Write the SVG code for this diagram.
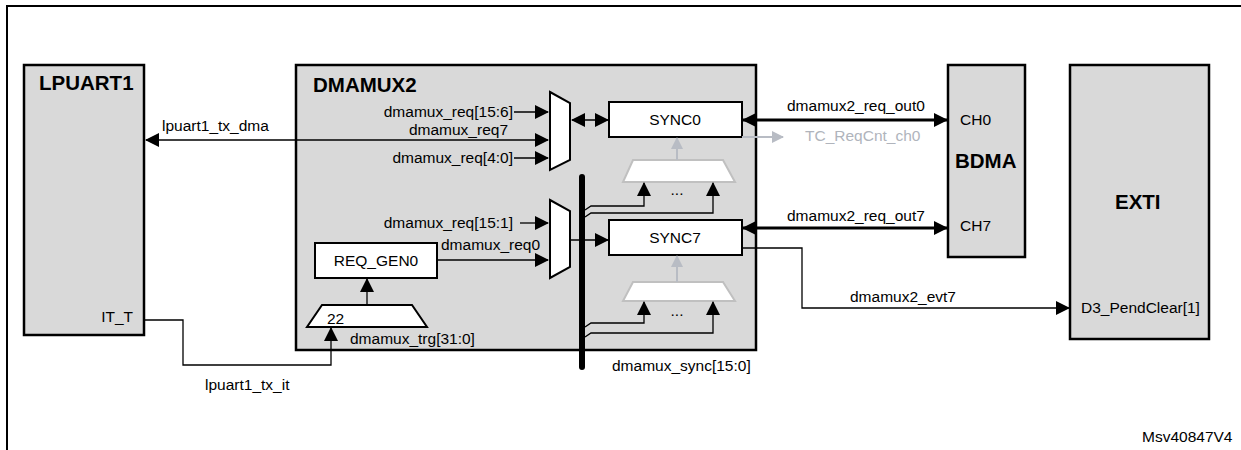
<svg xmlns="http://www.w3.org/2000/svg" width="1241" height="450" viewBox="0 0 1241 450">
<defs>
<style>
text{font-family:"Liberation Sans",Arial,sans-serif;font-size:15.5px;fill:#000}
.b{font-weight:bold;font-size:20.5px}
.blk{fill:#d9d9d9;stroke:#000;stroke-width:2.5}
.wb{fill:#fff;stroke:#000;stroke-width:2}
.ln{fill:none;stroke:#000;stroke-width:1.3}
.tk{fill:none;stroke:#000;stroke-width:3}
.g{fill:#fff;stroke:#c0c0c0;stroke-width:2}
.gl{fill:none;stroke:#b8bcc4;stroke-width:2}
.gt{fill:#b0b4bc}
</style>
<marker id="a" markerWidth="10" markerHeight="10" refX="9" refY="5" orient="auto-start-reverse" markerUnits="userSpaceOnUse"><path d="M0,0L10,5L0,10z" fill="#000"/></marker>
<marker id="ab" markerWidth="14" markerHeight="14" refX="13" refY="7" orient="auto-start-reverse" markerUnits="userSpaceOnUse"><path d="M0,0L14,7L0,14z" fill="#000"/></marker>
<marker id="ag" markerWidth="12" markerHeight="12" refX="11" refY="6" orient="auto-start-reverse" markerUnits="userSpaceOnUse"><path d="M0,0L12,6L0,12z" fill="#b8bcc4"/></marker>
</defs>
<path d="M7,450V6H1241" fill="none" stroke="#000" stroke-width="2"/>
<g id="LPUART1"><rect class="blk" x="24" y="65" width="120" height="270"/><text class="b" x="39" y="90">LPUART1</text><text x="133" y="322" text-anchor="end">IT_T</text></g>
<g id="DMAMUX2"><rect class="blk" x="296" y="65" width="460" height="285"/><text class="b" x="313" y="92">DMAMUX2</text></g>
<g id="BDMA"><rect class="blk" x="948" y="65" width="77" height="192"/><text x="960" y="125">CH0</text><text class="b" x="955" y="168">BDMA</text><text x="960" y="231">CH7</text></g>
<g id="EXTI"><rect class="blk" x="1070" y="65" width="139" height="274"/><text class="b" x="1115" y="209">EXTI</text><text x="1081" y="313">D3_PendClear[1]</text></g>
<g id="MUX0"><path class="wb" d="M550,92L570,103V160L550,170z"/></g>
<g id="MUX7"><path class="wb" d="M550,200L570,211V267L550,278z"/></g>
<g id="SYNC0"><rect class="wb" x="609" y="102" width="133" height="35"/><text x="675" y="125" text-anchor="middle">SYNC0</text></g>
<g id="SYNC7"><rect class="wb" x="609" y="220" width="133" height="35"/><text x="675" y="243" text-anchor="middle">SYNC7</text></g>
<g id="REQ_GEN0"><rect class="wb" x="315" y="243" width="122" height="35"/><text x="376" y="266" text-anchor="middle">REQ_GEN0</text></g>
<g id="TRGMUX"><path class="wb" d="M322,305H412L427,327H307z"/><text x="327" y="324">22</text></g>
<g id="SMUX0"><path class="g" d="M633,160H723L735,182H623z"/><text x="677" y="195" text-anchor="middle" font-size="11">...</text></g>
<g id="SMUX7"><path class="g" d="M633,282H723L735,301H623z"/><text x="677" y="316" text-anchor="middle" font-size="11">...</text></g>
<g id="connectors">
<line x1="582" y1="177" x2="582" y2="367" stroke="#000" stroke-width="6" stroke-linecap="round"/>
<line class="ln" x1="514" y1="112" x2="548" y2="112" marker-end="url(#ab)"/>
<line class="ln" x1="548" y1="140" x2="146" y2="140" marker-start="url(#ab)" marker-end="url(#ab)"/>
<line class="ln" x1="514" y1="158" x2="548" y2="158" marker-end="url(#ab)"/>
<line class="ln" x1="520" y1="223" x2="548" y2="223" marker-end="url(#ab)"/>
<line class="ln" x1="437" y1="260" x2="548" y2="260" marker-end="url(#ab)"/>
<line class="ln" x1="572" y1="120" x2="608" y2="120" marker-start="url(#ab)" marker-end="url(#ab)"/>
<line class="ln" x1="570" y1="240" x2="608" y2="240" marker-end="url(#ab)"/>
<line class="ln" x1="367" y1="305" x2="367" y2="279" marker-end="url(#ab)"/>
<path class="ln" d="M145,320H183V365H331V328" marker-end="url(#ab)"/>
<path class="ln" d="M585,210L591,206H644V183" marker-end="url(#ab)"/>
<path class="ln" d="M585,217L591,213H713V183" marker-end="url(#ab)"/>
<path class="ln" d="M585,327L591,323H644V302" marker-end="url(#ab)"/>
<path class="ln" d="M585,337L591,333H713V302" marker-end="url(#ab)"/>
<line class="gl" x1="677" y1="160" x2="677" y2="138" marker-end="url(#ag)"/>
<line class="gl" x1="677" y1="282" x2="677" y2="256" marker-end="url(#ag)"/>
<line class="gl" x1="742" y1="137" x2="783" y2="137" stroke-width="1" marker-end="url(#ag)"/>
<line class="tk" x1="743" y1="120" x2="947" y2="120" marker-start="url(#ab)" marker-end="url(#ab)"/>
<line class="tk" x1="743" y1="228" x2="947" y2="228" marker-start="url(#ab)" marker-end="url(#ab)"/>
<path class="ln" d="M742,248H802V308H1069" marker-end="url(#ab)"/>
</g>
<text x="513" y="117" text-anchor="end">dmamux_req[15:6]</text>
<text x="508" y="135" text-anchor="end">dmamux_req7</text>
<text x="513" y="163" text-anchor="end">dmamux_req[4:0]</text>
<text x="513" y="228" text-anchor="end">dmamux_req[15:1]</text>
<text x="441" y="250">dmamux_req0</text>
<text x="350" y="344">dmamux_trg[31:0]</text>
<text x="162" y="131">lpuart1_tx_dma</text>
<text x="205" y="390">lpuart1_tx_it</text>
<text x="612" y="371">dmamux_sync[15:0]</text>
<text x="787" y="111">dmamux2_req_out0</text>
<text class="gt" x="805" y="141">TC_ReqCnt_ch0</text>
<text x="787" y="221">dmamux2_req_out7</text>
<text x="850" y="302">dmamux2_evt7</text>
<text x="1142" y="442">Msv40847V4</text>
</svg>
